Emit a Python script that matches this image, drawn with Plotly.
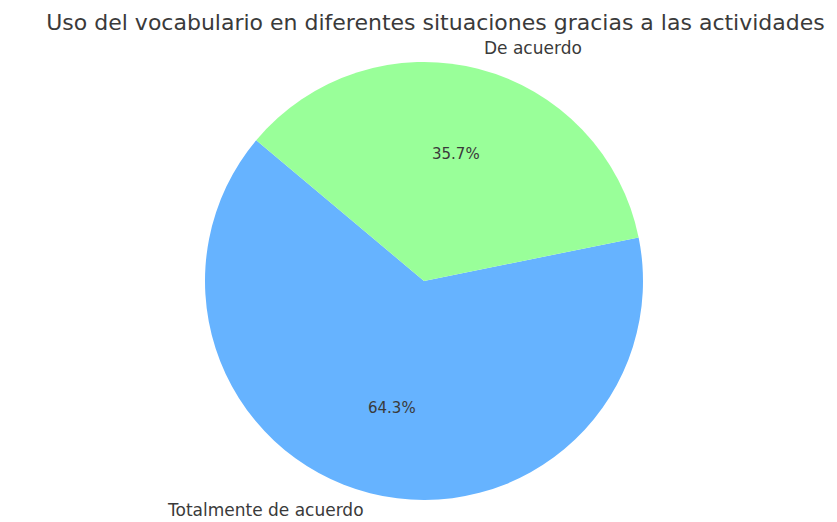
import math
import plotly.graph_objects as go

# Survey answers and their share of responses
labels = ["Totalmente de acuerdo", "De acuerdo"]
values = [64.3, 35.7]
colors = ["#66b3ff", "#99ff99"]
title_text = "Uso del vocabulario en diferentes situaciones gracias a las actividades"

W, H = 837, 522
cx, cy, r = 424, 281, 219          # pie centre and radius in pixels
start_angle = 140                  # degrees, counter-clockwise from 3 o'clock
font_family = "DejaVu Sans, sans-serif"

total = sum(values)
# Plotly (counterclockwise) puts the boundary between slice 1 and slice 2 at
# `rotation`, measured clockwise from 12 o'clock.
first_end = start_angle + 360.0 * values[0] / total
rotation = ((90 - first_end + 180) % 360) - 180

fig = go.Figure(go.Pie(
    labels=labels,
    values=values,
    marker=dict(colors=colors, line=dict(width=0)),
    sort=False,
    direction="counterclockwise",
    rotation=rotation,
    textinfo="none",
    hoverinfo="label+percent",
    showlegend=False,
    domain=dict(x=[(cx - r) / W, (cx + r) / W],
                y=[1 - (cy + r) / H, 1 - (cy - r) / H]),
))

# Outer category labels and inner percentage labels along each slice's mid-angle
annotations = []
theta0 = start_angle
for lab, val in zip(labels, values):
    span = 360.0 * val / total
    mid = math.radians(theta0 + span / 2)
    theta0 += span
    dx, dy = math.cos(mid), math.sin(mid)
    lx, ly = cx + 1.1 * r * dx, cy - 1.1 * r * dy
    ly = min(ly, H - 12)           # keep the lower label inside the canvas
    annotations.append(dict(
        x=lx / W, y=1 - ly / H, xref="paper", yref="paper",
        text=lab, showarrow=False, borderpad=0,
        xanchor="left" if dx > 0 else "right", yanchor="middle",
        font=dict(family=font_family, size=17, color="#3a3a3a"),
    ))
    px_, py_ = cx + 0.6 * r * dx, cy - 0.6 * r * dy
    annotations.append(dict(
        x=px_ / W, y=1 - py_ / H, xref="paper", yref="paper",
        text=f"{100 * val / total:.1f}%", showarrow=False,
        xanchor="center", yanchor="middle",
        font=dict(family=font_family, size=15, color="#3a3a3a"),
    ))

fig.update_layout(
    width=W, height=H,
    margin=dict(l=0, r=0, t=0, b=0),
    paper_bgcolor="white",
    plot_bgcolor="white",
    title=dict(text=title_text, x=(38 + 833) / 2 / W, xanchor="center",
               y=1 - 22 / H, yanchor="middle",
               font=dict(family=font_family, size=22, color="#3a3a3a")),
    annotations=annotations,
)

fig.write_html("out.html")
